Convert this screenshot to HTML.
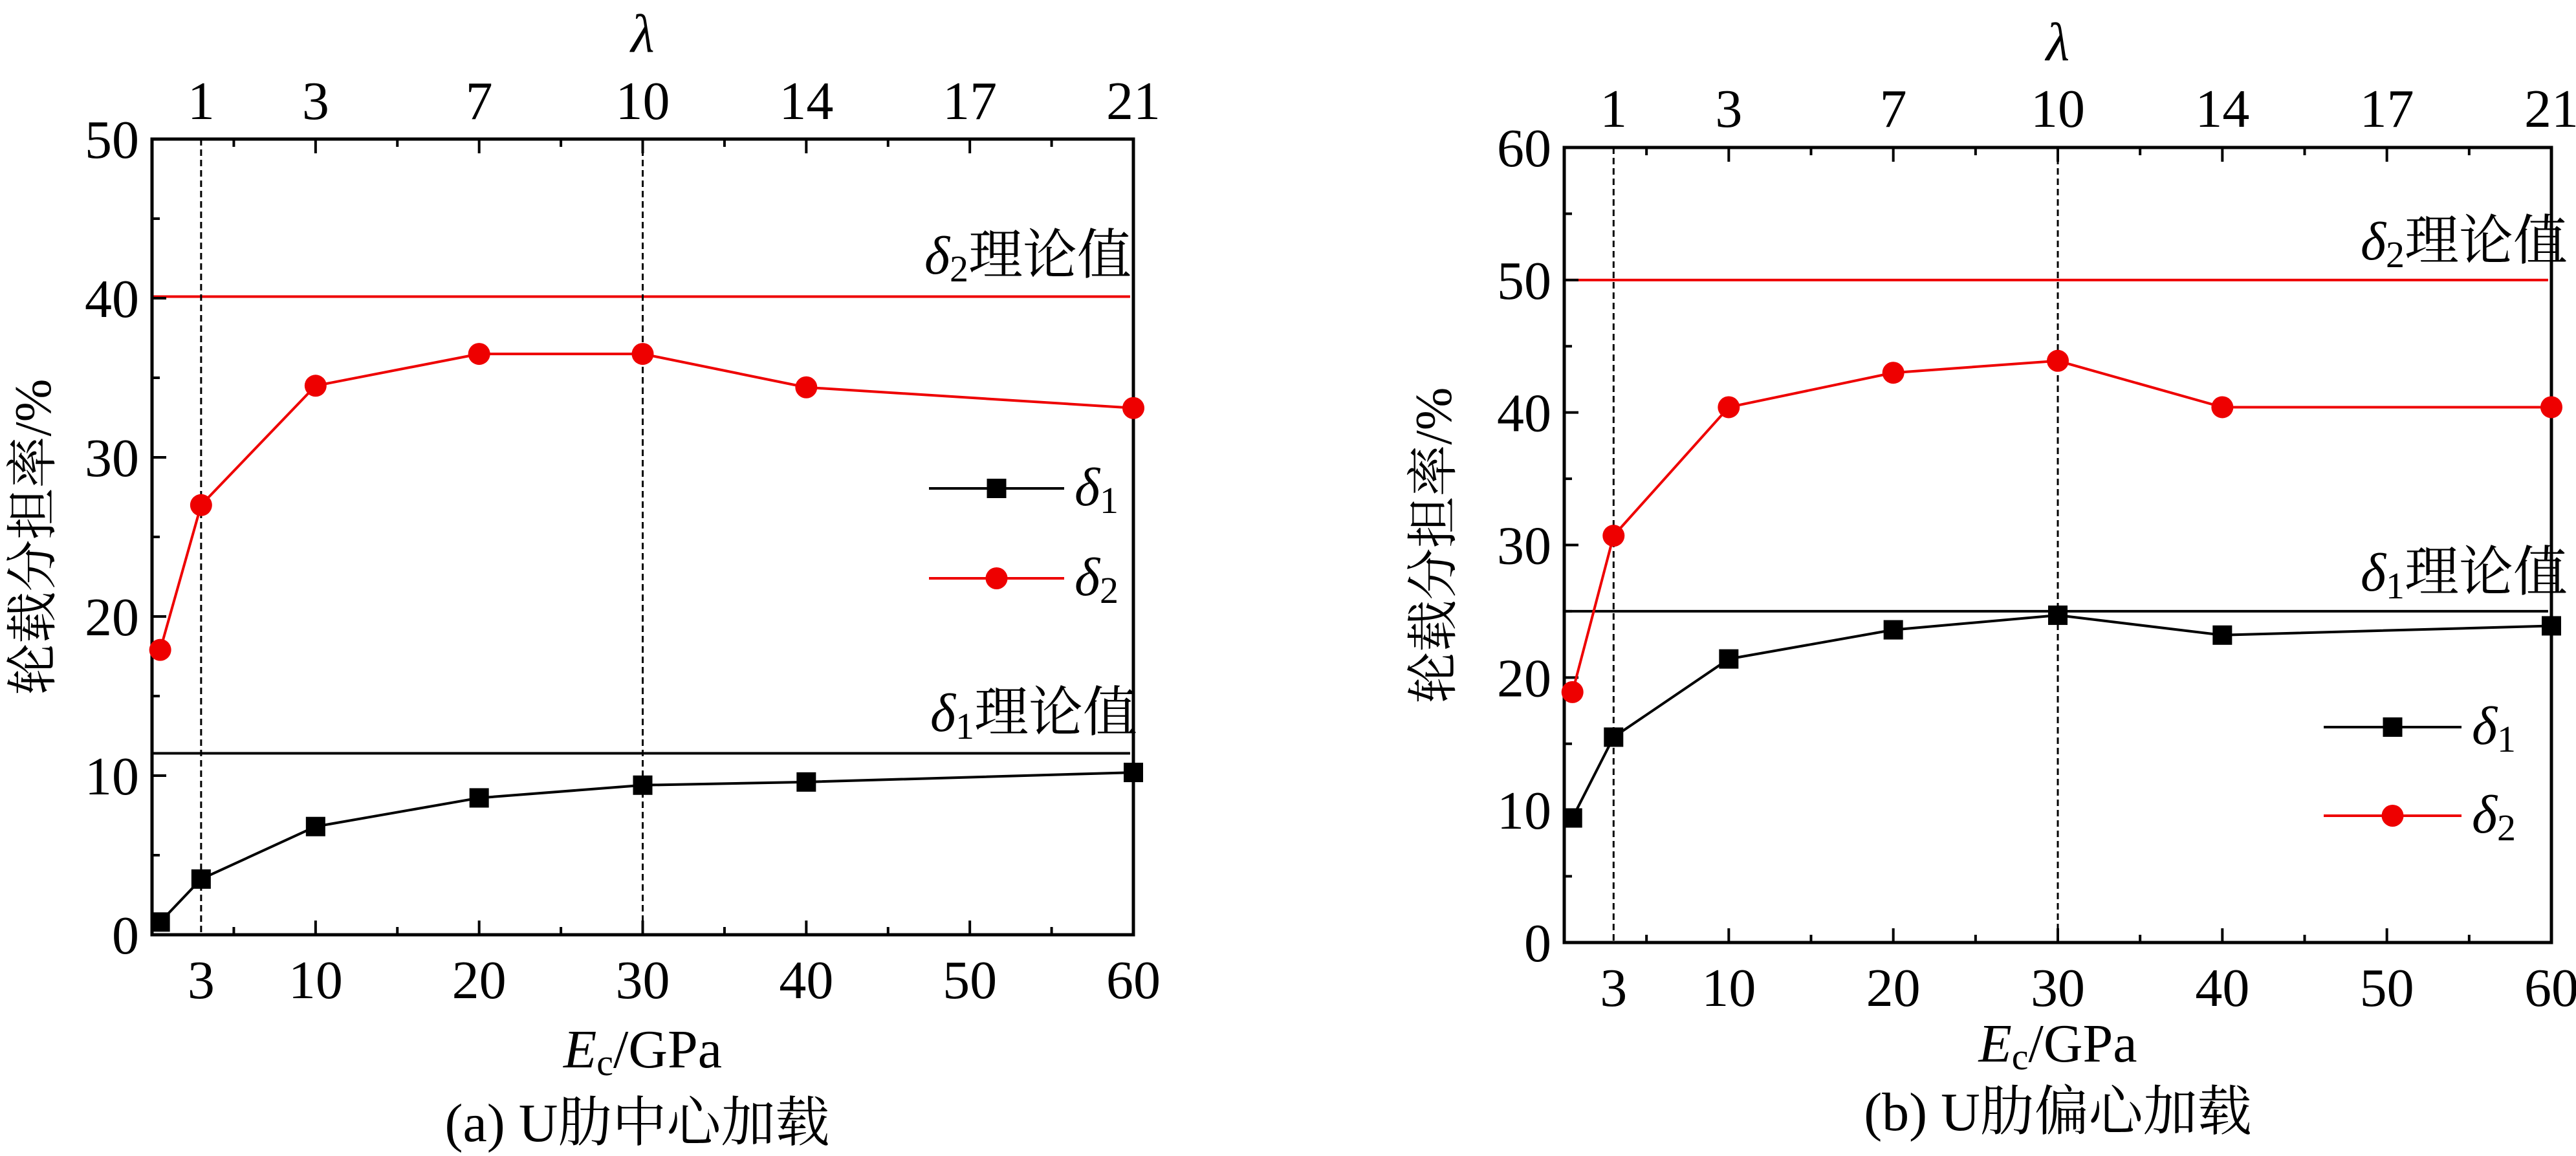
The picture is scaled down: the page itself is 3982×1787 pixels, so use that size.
<!DOCTYPE html>
<html><head><meta charset="utf-8"><style>
html,body{margin:0;padding:0;background:#fff;}
svg{display:block;font-family:"Liberation Serif","Noto Serif CJK SC",serif;}
</style></head><body>
<svg id="fig" width="3982" height="1787" viewBox="0 0 3982 1787" xmlns="http://www.w3.org/2000/svg"></svg>
<script>
const xValues = [0.5, 3, 10, 20, 30, 40, 60];
const d1A = [0.8, 3.5, 6.8, 8.6, 9.4, 9.6, 10.2];
const d2A = [17.9, 27.0, 34.5, 36.5, 36.5, 34.4, 33.1];
const d1B = [9.4, 15.5, 21.4, 23.6, 24.7, 23.2, 23.9];
const d2B = [18.9, 30.7, 40.4, 43.0, 43.9, 40.4, 40.4];
const theoryA = [11.4, 40.1];
const theoryB = [25.0, 50.0];
const xTickVals = [3, 10, 20, 30, 40, 50, 60];
const lambdaLabels = ['1', '3', '7', '10', '14', '17', '21'];
const yTicksA = [0, 10, 20, 30, 40, 50];
const yTicksB = [0, 10, 20, 30, 40, 50, 60];
const dashedX = [3, 30];

const NS = 'http://www.w3.org/2000/svg';
const svg = document.getElementById('fig');
const FS = 84;
function el(tag, attrs, parent, text) {
  const e = document.createElementNS(NS, tag);
  for (const k in attrs) e.setAttribute(k, attrs[k]);
  if (text !== undefined) e.textContent = text;
  (parent || svg).appendChild(e);
  return e;
}

function panel(cfg) {
  const g = el('g', {});
  
  
  const X = v => cfg.x0 + (cfg.x1 - cfg.x0) * v / 60;
  const Y = v => cfg.y0 - (cfg.y0 - cfg.y1) * v / cfg.ymax;

  const tcol = ['#000', '#e00'];
  cfg.theory.forEach((t, i) => {
    const l = el('line', {x1: cfg.x0, x2: X(59.8), y1: Y(t), y2: Y(t), stroke: tcol[i], 'stroke-width': 4}, g);
    
    
  });
  dashedX.forEach(v => {
    const l = el('line', {x1: X(v), x2: X(v), y1: cfg.y1, y2: cfg.y0, stroke: '#000', 'stroke-width': 3, 'stroke-dasharray': '10,6'}, g);
    
    
  });
  const f = el('rect', {x: cfg.x0, y: cfg.y1, width: cfg.x1 - cfg.x0, height: cfg.y0 - cfg.y1, fill: 'none', stroke: '#000', 'stroke-width': 5}, g);
  
  
  for (let v = 5; v <= 60; v += 5) {
    const len = v % 10 === 0 ? 22 : 12;
    el('line', {x1: X(v), x2: X(v), y1: cfg.y0, y2: cfg.y0 - len, stroke: '#000', 'stroke-width': 4}, g);
    el('line', {x1: X(v), x2: X(v), y1: cfg.y1, y2: cfg.y1 + len, stroke: '#000', 'stroke-width': 4}, g);
  }
  for (let v = 5; v < cfg.ymax; v += 5) {
    const len = v % 10 === 0 ? 22 : 12;
    el('line', {x1: cfg.x0, x2: cfg.x0 + len, y1: Y(v), y2: Y(v), stroke: '#000', 'stroke-width': 4}, g);
  }
  xTickVals.forEach((v, i) => {
    const t = el('text', {x: X(v), y: cfg.xLabY, 'font-size': FS, 'text-anchor': 'middle'}, g, String(v));
    
    
    const t2 = el('text', {x: X(v), y: cfg.topLabY, 'font-size': FS, 'text-anchor': 'middle'}, g, lambdaLabels[i]);
    
    
  });
  cfg.yTicks.forEach(v => {
    const t = el('text', {x: cfg.x0 - 20, y: Y(v) + 29, 'font-size': FS, 'text-anchor': 'end'}, g, String(v));
    
    
  });
  const lt = el('text', {x: X(30), y: cfg.lamY, 'font-size': FS, 'font-style': 'italic', 'text-anchor': 'middle'}, g, 'λ');
  
  
  const xt = el('text', {x: X(30), y: cfg.xTitleY, 'font-size': FS, 'text-anchor': 'middle'}, g);
  
  
  el('tspan', {'font-style': 'italic'}, xt, 'E');
  el('tspan', {'font-size': 58, dy: 12}, xt, 'c');
  el('tspan', {dy: -12}, xt, '/GPa');
  const yt = el('text', {x: 0, y: 0, 'font-size': 80, 'text-anchor': 'middle', transform: `translate(${cfg.yTitleX},${cfg.yTitleY}) rotate(-90)`}, g, '轮载分担率/%');
  
  
  const cap = el('text', {x: cfg.capX, y: cfg.capY, 'font-size': FS, 'text-anchor': 'middle'}, g, cfg.caption);
  
  
  cfg.theoryLab.forEach((p, i) => {
    const t = el('text', {x: p[0], y: p[1], 'font-size': FS, 'text-anchor': 'end'}, g);
    
    
    el('tspan', {'font-style': 'italic'}, t, 'δ');
    el('tspan', {'font-size': 58, dy: 12}, t, String(i + 1));
    el('tspan', {dy: -12}, t, '理论值');
  });
  const series = [[cfg.d1, '#000', 'square'], [cfg.d2, '#e00', 'circle']];
  series.forEach(([data, col, shape], si) => {
    const pts = data.map((v, i) => X(xValues[i]) + ',' + Y(v)).join(' ');
    const pl = el('polyline', {points: pts, fill: 'none', stroke: col, 'stroke-width': 4}, g);
    
    
    data.forEach((v, i) => {
      let m;
      if (shape === 'square') m = el('rect', {x: X(xValues[i]) - 15, y: Y(v) - 15, width: 30, height: 30, fill: col}, g);
      else m = el('circle', {cx: X(xValues[i]), cy: Y(v), r: 17, fill: col}, g);
      
      
    });
  });
  const lg = cfg.legend;
  series.forEach(([d, col, shape], si) => {
    const y = lg.y[si];
    const le = el('g', {}, g);
    
    
    el('line', {x1: lg.x1, x2: lg.x2, y1: y, y2: y, stroke: col, 'stroke-width': 4}, le);
    const mx = (lg.x1 + lg.x2) / 2;
    if (shape === 'square') el('rect', {x: mx - 15, y: y - 15, width: 30, height: 30, fill: col}, le);
    else el('circle', {cx: mx, cy: y, r: 17, fill: col}, le);
    const t = el('text', {x: lg.x2 + 16, y: y + 26, 'font-size': FS}, le);
    el('tspan', {'font-style': 'italic'}, t, 'δ');
    el('tspan', {'font-size': 58, dy: 12}, t, String(si + 1));
  });
}

panel({name: 'panel-a', x0: 235, x1: 1752, y0: 1445, y1: 215, ymax: 50,
  d1: d1A, d2: d2A, theory: theoryA, yTicks: yTicksA,
  xLabY: 1543, topLabY: 184, lamY: 80, xTitleY: 1650, yTitleX: 78, yTitleY: 830,
  capX: 985, capY: 1764, caption: '(a) U肋中心加载',
  theoryLab: [[1758, 1130], [1749, 423]],
  legend: {x1: 1436, x2: 1645, y: [755, 894]}});

panel({name: 'panel-b', x0: 2418, x1: 3944, y0: 1457, y1: 228, ymax: 60,
  d1: d1B, d2: d2B, theory: theoryB, yTicks: yTicksB,
  xLabY: 1555, topLabY: 196, lamY: 93, xTitleY: 1641, yTitleX: 2243, yTitleY: 843,
  capX: 3181, capY: 1747, caption: '(b) U肋偏心加载',
  theoryLab: [[3969, 913], [3969, 401]],
  legend: {x1: 3592, x2: 3805, y: [1124, 1261]}});
</script>
</body></html>
